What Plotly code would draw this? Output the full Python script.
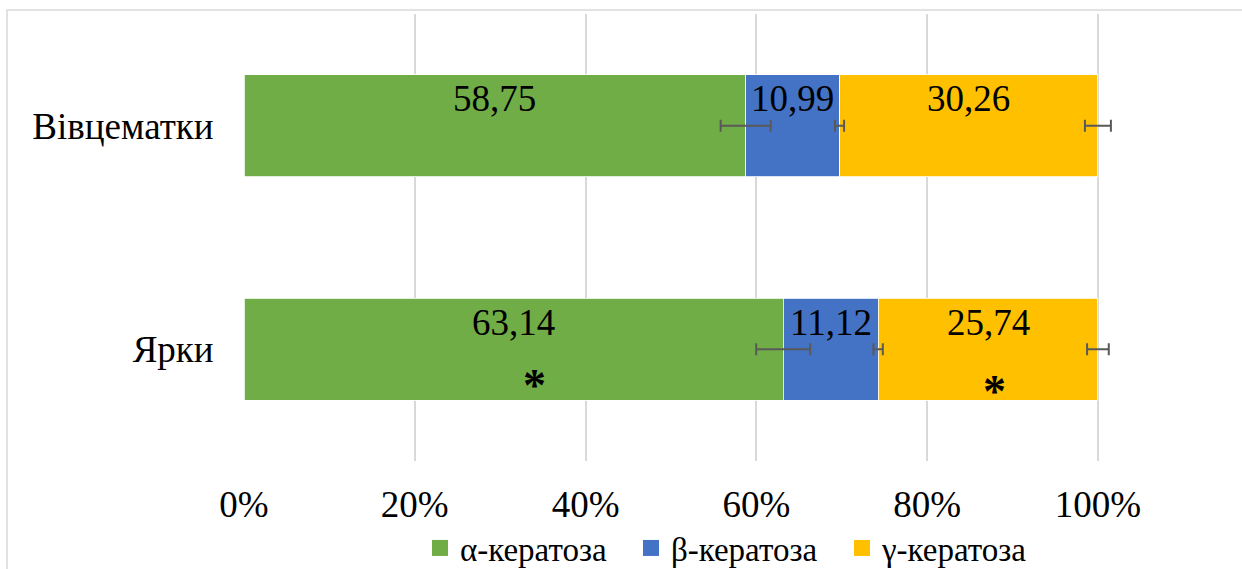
import plotly.graph_objects as go

categories = ["Ярки", "Вівцематки"]
series_names = ["α-кератоза", "β-кератоза", "γ-кератоза"]
alpha_vals = [63.14, 58.75]
beta_vals = [11.12, 10.99]
gamma_vals = [25.74, 30.26]
alpha_err = [3.16, 2.93]
beta_err = [0.55, 0.53]
gamma_err = [1.27, 1.52]
x_ticks = [0, 20, 40, 60, 80, 100]
x_tick_labels = ["0%", "20%", "40%", "60%", "80%", "100%"]
colors = ["#70AD47", "#4472C4", "#FFC000"]
# significance marks: (category, series index)
stars = [("Ярки", 0), ("Ярки", 2)]

FONT = "Liberation Serif, Tinos, Times New Roman, DejaVu Serif, serif"
W, H = 1242, 569
XMAX = 102.0  # a little room past 100 % so the last error bars are not clipped
L, T, B = 244, 14, 108
PW100 = 854  # pixels from 0 % to 100 %
R = W - L - PW100 * XMAX / 100

fig = go.Figure()
vals = [alpha_vals, beta_vals, gamma_vals]
errs = [alpha_err, beta_err, gamma_err]
for name, v, c in zip(series_names, vals, colors):
    fig.add_trace(go.Bar(
        y=categories, x=v, name=name, orientation="h", showlegend=False,
        marker=dict(color=c, line=dict(color="white", width=0.8)),
        width=0.456,
    ))

# error bars drawn above all bars, at the end of each stacked segment
cum = [0.0] * len(categories)
for name, v, e in zip(series_names, vals, errs):
    cum = [a + b for a, b in zip(cum, v)]
    fig.add_trace(go.Scatter(
        y=categories, x=cum, mode="markers", showlegend=False, hoverinfo="skip",
        marker=dict(size=1, color="rgba(0,0,0,0)"), cliponaxis=False,
        error_x=dict(type="data", array=e, visible=True, color="#595959",
                     thickness=2, width=6),
    ))

# legend entries with larger square swatches
for name, c in zip(series_names, colors):
    fig.add_trace(go.Scatter(
        x=[None], y=[None], mode="markers", name=name,
        marker=dict(symbol="square", size=18, color=c),
    ))

# data labels
annotations = []
for ci, cat in enumerate(categories):
    start = 0
    for si in range(3):
        v = vals[si][ci]
        mid = start + v / 2
        annotations.append(dict(
            x=mid, y=cat, xref="x", yref="y", text=f"{v:.2f}".replace(".", ","),
            showarrow=False, yshift=27,
            font=dict(family=FONT, size=37, color="black"),
        ))
        start += v

for cat, si in stars:
    ci = categories.index(cat)
    start = sum(vals[k][ci] for k in range(si))
    v = vals[si][ci]
    annotations.append(dict(
        x=start + v / 2 + (2.5 if si == 0 else 0.8), y=cat, xref="x", yref="y", text="<b>*</b>",
        showarrow=False, yshift=-36 if si == 0 else -42,
        font=dict(family=FONT, size=46, color="black"),
    ))

pw = W - L - R
ph = H - T - B
def px_x(p):
    return (p - L) / pw
def px_y(p):
    return (H - B - p) / ph

fig.update_layout(
    width=W, height=H,
    margin=dict(l=L, r=R, t=T, b=B, autoexpand=False),
    barmode="stack",
    plot_bgcolor="white", paper_bgcolor="white",
    font=dict(family=FONT, size=37, color="black"),
    xaxis=dict(range=[0, XMAX], tickvals=x_ticks, ticktext=x_tick_labels,
               showgrid=True, gridcolor="#D9D9D9", gridwidth=1.5,
               zeroline=False, showline=False, automargin=False,
               ticks="outside", ticklen=11, tickcolor="rgba(0,0,0,0)",
               tickfont=dict(family=FONT, size=37, color="black")),
    yaxis=dict(range=[-0.5, 1.5], showgrid=False, zeroline=False, showline=False,
               automargin=False,
               ticks="outside", ticklen=22, tickcolor="rgba(0,0,0,0)",
               tickfont=dict(family=FONT, size=37, color="black")),
    legend=dict(orientation="h", x=px_x(420), y=px_y(548), xanchor="left", yanchor="middle",
                font=dict(family=FONT, size=33, color="black"),
                entrywidth=166, entrywidthmode="pixels", traceorder="normal",
                itemsizing="trace", bgcolor="rgba(0,0,0,0)"),
    showlegend=True,
    annotations=annotations,
    shapes=[dict(type="rect", xref="paper", yref="paper",
                 x0=px_x(7), x1=px_x(1260), y0=px_y(590), y1=px_y(10),
                 line=dict(color="#D9D9D9", width=1.5), fillcolor="rgba(0,0,0,0)",
                 layer="below")],
)

fig.write_html("out.html", config={"displayModeBar": False},
               post_script="document.body.style.margin='0';document.body.style.padding='0';")
